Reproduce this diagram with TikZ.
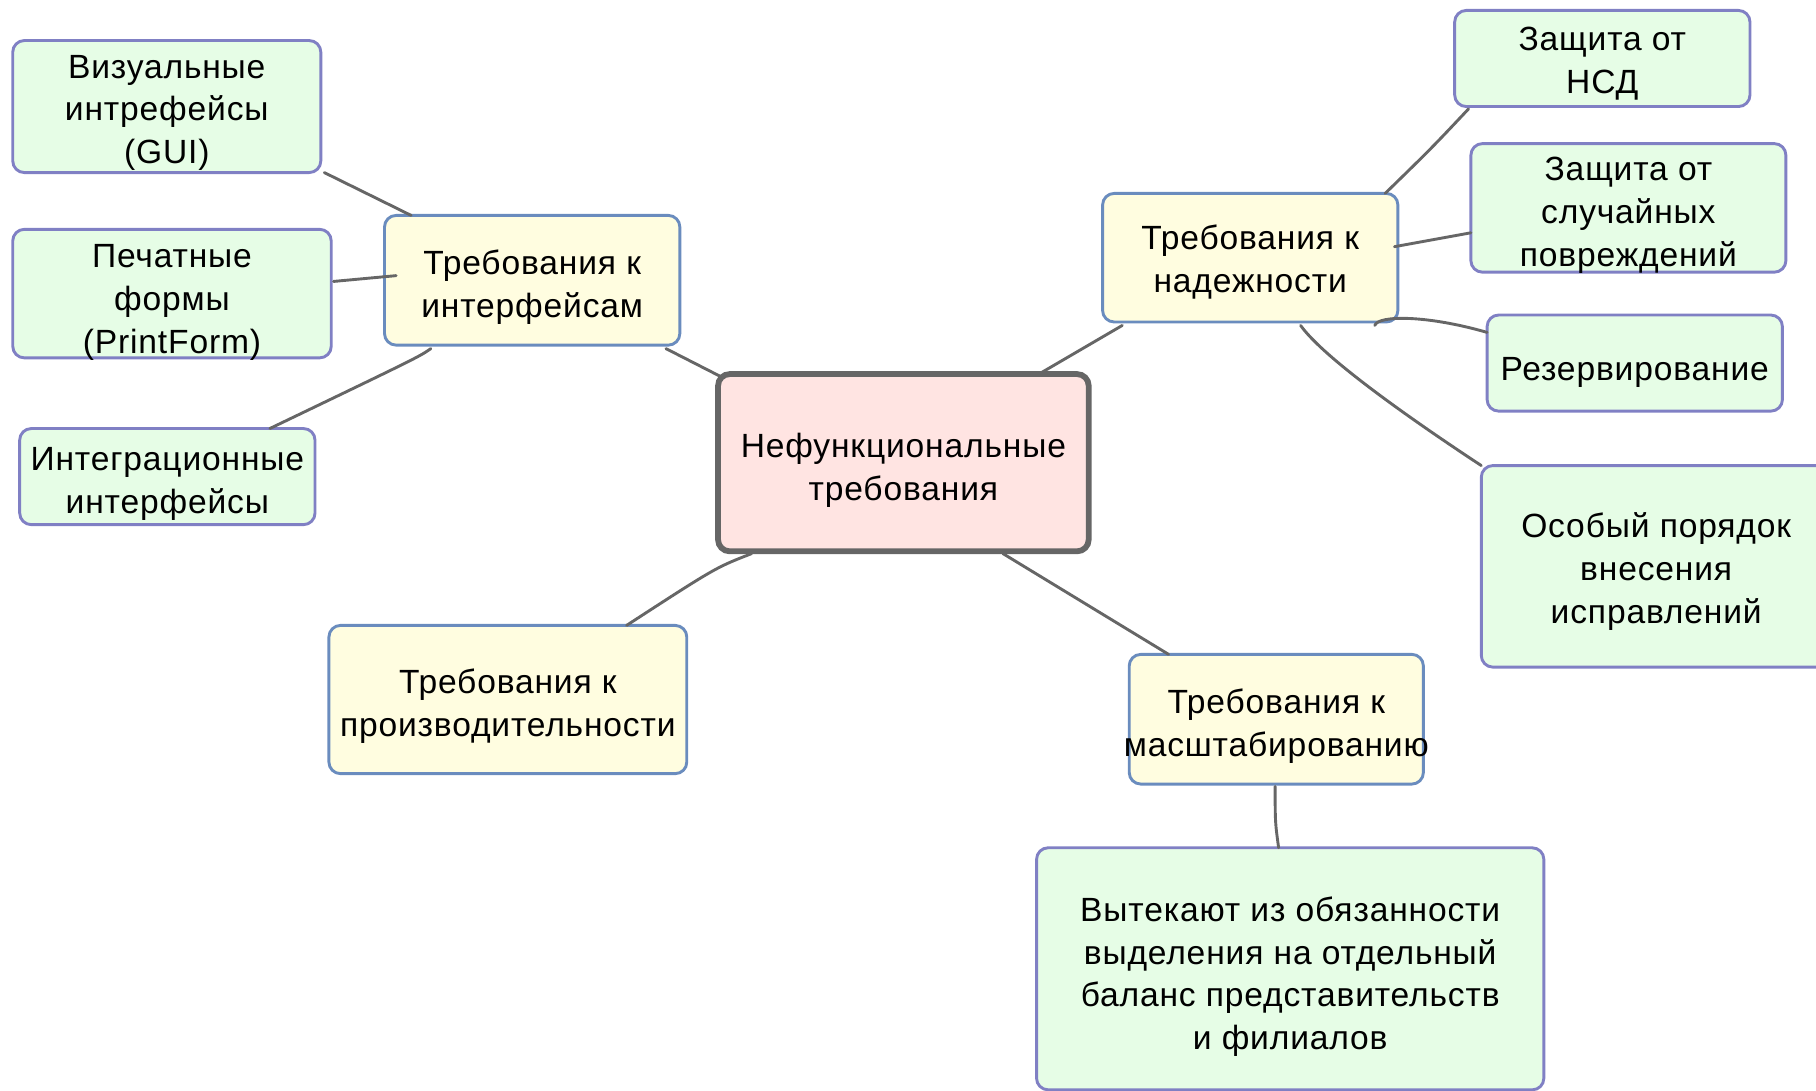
\documentclass[tikz,border=0pt]{standalone}
\usepackage{fontspec}
\setmainfont{Liberation Sans}[LetterSpace=2.5]
\definecolor{leaffill}{RGB}{230,253,230}
\definecolor{leafborder}{RGB}{128,128,196}
\definecolor{midfill}{RGB}{255,253,224}
\definecolor{midborder}{RGB}{106,140,190}
\definecolor{rootfill}{RGB}{255,228,226}
\definecolor{rootborder}{RGB}{102,102,102}
\definecolor{connc}{RGB}{102,102,102}
\newcommand{\mylines}[2][6pt]{\makebox[0pt]{\raisebox{-#1}[\height][\depth]{\begin{tabular}{@{}c@{}}#2\end{tabular}}}}
\tikzset{
  box/.style={rounded corners=10pt, inner sep=0pt, text=black,
    font=\fontsize{29}{37}\selectfont},
  leaf/.style={box, draw=leafborder, fill=leaffill, line width=2.5pt},
  mid/.style={box, draw=midborder, fill=midfill, line width=2.5pt},
  root/.style={box, draw=rootborder, fill=rootfill, line width=5pt},
  conn/.style={draw=connc, line width=2.5pt, line cap=round}
}
\begin{document}
\begin{tikzpicture}[x=1pt,y=-1pt]
\useasboundingbox (0,0) rectangle (1568,942);
% root
\node[root, minimum width=320pt, minimum height=153pt] (C) at (780,399.5) {\mylines[7pt]{Нефункциональные\\требования}};
% second level
\node[mid, minimum width=255pt, minimum height=112pt] (RI) at (459.5,242) {\mylines{Требования к\\интерфейсам}};
\node[mid, minimum width=255pt, minimum height=111pt] (RN) at (1079.5,222.5) {\mylines[4pt]{Требования к\\надежности}};
\node[mid, minimum width=309pt, minimum height=128pt] (RP) at (438.5,604) {\mylines{Требования к\\производительности}};
\node[mid, minimum width=254pt, minimum height=112pt] (RM) at (1102,621) {\mylines{Требования к\\масштабированию}};
% leaves
\node[leaf, minimum width=266pt, minimum height=114pt] (VG) at (144,92) {\mylines[5pt]{Визуальные\\интрефейсы\\(GUI)}};
\node[leaf, minimum width=275pt, minimum height=111pt] (PF) at (148.5,253.5) {\mylines[7pt]{Печатные\\формы\\(PrintForm)}};
\node[leaf, minimum width=255pt, minimum height=83pt] (IN) at (144.5,411.5) {\mylines{Интеграционные\\интерфейсы}};
\node[leaf, minimum width=255pt, minimum height=83pt] (ZN) at (1383.5,50.5) {\mylines[4pt]{Защита от\\НСД}};
\node[leaf, minimum width=272pt, minimum height=111pt] (ZS) at (1406,179.5) {\mylines{Защита от\\случайных\\повреждений}};
\node[leaf, minimum width=255pt, minimum height=83pt] (RZ) at (1411.5,313.5) {\mylines[8pt]{Резервирование}};
\node[leaf, minimum width=302pt, minimum height=174pt] (OP) at (1430,489) {\mylines[5pt]{Особый порядок\\внесения\\исправлений}};
\node[leaf, minimum width=438pt, minimum height=209pt] (VY) at (1114,836.5) {\mylines[7pt]{Вытекают из обязанности\\выделения на отдельный\\баланс представительств\\и филиалов}};
% connectors
\draw[conn] ([shift={(-158,-74.5)}]C.center) -- ([shift={(115.5,59)}]RI.center);
\draw[conn] ([shift={(-104.5,-56)}]RI.center) -- ([shift={(136,57)}]VG.center);
\draw[conn] ([shift={(-117.5,-4)}]RI.center) -- ([shift={(139.5,-10.5)}]PF.center);
\draw[conn] ([shift={(-87.5,59)}]RI.center) .. controls (362,308) .. ([shift={(88.5,-41.5)}]IN.center);
\draw[conn] ([shift={(117,-76.5)}]C.center) -- ([shift={(-110.5,58.5)}]RN.center);
\draw[conn] ([shift={(116.5,-55.5)}]RN.center) .. controls (1236,128) .. ([shift={(-115.5,43.5)}]ZN.center);
\draw[conn] ([shift={(124.5,-9.5)}]RN.center) -- ([shift={(-136,21.5)}]ZS.center);
\draw[conn] ([shift={(107.5,58.5)}]RN.center) .. controls (1190,272) and (1232,272) .. ([shift={(-127.5,-26.5)}]RZ.center);
\draw[conn] ([shift={(43.5,58.5)}]RN.center) .. controls (1140,305) and (1200,350) .. ([shift={(-151,-87)}]OP.center);
\draw[conn] ([shift={(-131,78.5)}]C.center) .. controls (618,490) .. ([shift={(102.5,-64)}]RP.center);
\draw[conn] ([shift={(86,78.5)}]C.center) -- ([shift={(-93,-56)}]RM.center);
\draw[conn] ([shift={(-1,58)}]RM.center) .. controls (1101,710) .. ([shift={(-10,-104.5)}]VY.center);
\end{tikzpicture}
\end{document}
